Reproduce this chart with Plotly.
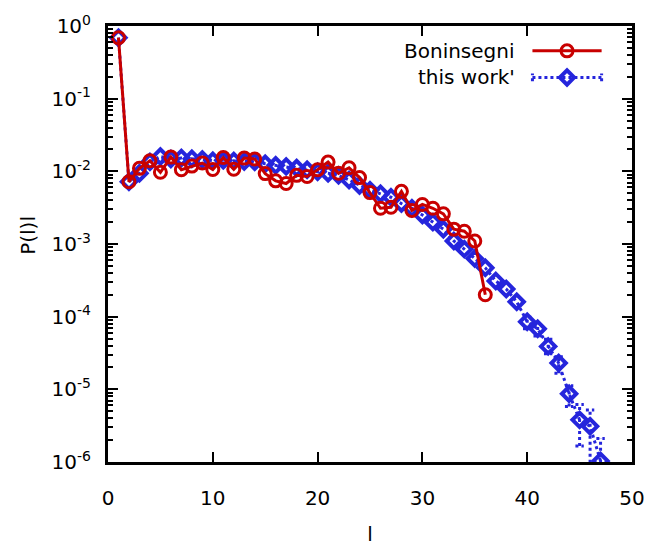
import plotly.graph_objects as go

# Cluster-length distribution P(l)l
red_x = list(range(1, 37))
red_y = [0.69, 0.0072, 0.011, 0.014, 0.0097, 0.0157, 0.0105, 0.0118, 0.013, 0.0106,
         0.0155, 0.0107, 0.0152, 0.0148, 0.0093, 0.0074, 0.0068, 0.0088, 0.0085, 0.0105,
         0.0134, 0.0094, 0.0112, 0.0082, 0.0051, 0.0031, 0.0032, 0.0053, 0.0029, 0.0035,
         0.0031, 0.0026, 0.0016, 0.0015, 0.0011, 0.0002]

blue_x = list(range(1, 48))
blue_y = [0.69, 0.0072, 0.0094, 0.0135, 0.016, 0.0148, 0.0153, 0.0149, 0.0146, 0.0140,
          0.0142, 0.0139, 0.0137, 0.0135, 0.0127, 0.0121, 0.0117, 0.0111, 0.0105, 0.0099,
          0.0094, 0.0088, 0.0076, 0.0064, 0.0055, 0.0049, 0.0044, 0.0036, 0.0031, 0.0025,
          0.0020, 0.0016, 0.0011, 0.00085, 0.00063, 0.00047, 0.00031, 0.00024, 0.00016, 8.5e-5,
          6.8e-5, 3.9e-5, 2.3e-5, 8.7e-6, 3.8e-6, 3.1e-6, 1.03e-6]

# error bounds for the tail of "this work'"
err_x = [40, 41, 42, 43, 44, 45, 46, 47]
err_lo = [6.8e-5, 5.4e-5, 3.1e-5, 1.67e-5, 5.8e-6, 1.66e-6, 1e-7, 1e-7]
err_hi = [9.8e-5, 7.8e-5, 4.9e-5, 2.8e-5, 1.12e-5, 6.2e-6, 5.2e-6, 2.1e-6]

x_ticks = [0, 10, 20, 30, 40, 50]
y_exps = [-6, -5, -4, -3, -2, -1, 0]

RED = "#c80000"
BLUE = "#2525dc"
FONT = "DejaVu Sans"

CIRCLE = dict(symbol="circle-open", size=12, color=RED, line=dict(color=RED, width=3))
DIAMOND = dict(symbol="diamond-open", size=11, color=BLUE, line=dict(color=BLUE, width=4))

fig = go.Figure()

# dotted error bars with caps
cap = 0.4
ex, ey = [], []
for x, lo, hi in zip(err_x, err_lo, err_hi):
    ex += [x, x, None, x - cap, x + cap, None, x - cap, x + cap, None]
    ey += [lo, hi, None, lo, lo, None, hi, hi, None]
fig.add_trace(go.Scatter(x=ex, y=ey, mode="lines", showlegend=False, hoverinfo="skip",
                         line=dict(color=BLUE, width=3, dash="dot")))

fig.add_trace(go.Scatter(x=blue_x, y=blue_y, mode="lines+markers", name="this work'",
                         line=dict(color=BLUE, width=3, dash="dot"), marker=DIAMOND))

fig.add_trace(go.Scatter(x=red_x, y=red_y, mode="lines+markers", name="Boninsegni",
                         line=dict(color=RED, width=3), marker=CIRCLE))

# legend keys drawn on an overlay axis (paper-like 0..1 coordinates)
key_x0, key_x1, key_xm = 0.81, 0.942, 0.876
key_y_red, key_y_blue = 0.943, 0.882
fig.add_trace(go.Scatter(x=[key_x0, key_x1], y=[key_y_red, key_y_red], mode="lines",
                         xaxis="x2", yaxis="y2", showlegend=False, hoverinfo="skip",
                         line=dict(color=RED, width=3)))
fig.add_trace(go.Scatter(x=[key_xm], y=[key_y_red], mode="markers",
                         xaxis="x2", yaxis="y2", showlegend=False, hoverinfo="skip",
                         marker=CIRCLE))
capy = 0.009
fig.add_trace(go.Scatter(x=[key_x0, key_x1, None, key_x0, key_x0, None, key_x1, key_x1],
                         y=[key_y_blue, key_y_blue, None, key_y_blue - capy, key_y_blue + capy,
                            None, key_y_blue - capy, key_y_blue + capy],
                         mode="lines", xaxis="x2", yaxis="y2", showlegend=False,
                         hoverinfo="skip", line=dict(color=BLUE, width=3, dash="dot")))
fig.add_trace(go.Scatter(x=[key_xm], y=[key_y_blue], mode="markers",
                         xaxis="x2", yaxis="y2", showlegend=False, hoverinfo="skip",
                         marker=DIAMOND))

for label, yv in (("Boninsegni", key_y_red), ("this work'", key_y_blue)):
    fig.add_annotation(x=0.78, y=yv, xref="paper", yref="paper", text=label,
                       showarrow=False, xanchor="right", yanchor="middle",
                       font=dict(family=FONT, size=20, color="black"))

# y-axis title
fig.add_annotation(x=-0.1525, y=0.519, xref="paper", yref="paper", text="P(l)l",
                   showarrow=False, textangle=-90, xanchor="center", yanchor="middle",
                   font=dict(family=FONT, size=20, color="black"))

minor_vals = [k * 10.0 ** e for e in range(-6, 0) for k in range(2, 10)]

fig.update_layout(
    width=657, height=554,
    margin=dict(l=108, r=18, t=26, b=77),
    paper_bgcolor="white", plot_bgcolor="white",
    showlegend=False,
    font=dict(family=FONT, size=20, color="black"),
    xaxis=dict(range=[0, 50], tickvals=x_ticks, ticktext=[str(v) for v in x_ticks],
               ticks="inside", ticklen=10, tickwidth=2, tickcolor="black",
               showline=True, linewidth=3, linecolor="black", mirror="ticks",
               showgrid=False, zeroline=False, ticklabelstandoff=16,
               title=dict(text="l", font=dict(family=FONT, size=20), standoff=18)),
    yaxis=dict(type="log", range=[-6, 0],
               tickvals=[10.0 ** e for e in y_exps],
               ticktext=["10<sup>%d</sup>" % e for e in y_exps],
               ticks="inside", ticklen=10, tickwidth=2, tickcolor="black",
               minor=dict(tickvals=minor_vals, ticks="inside", ticklen=5, tickwidth=2,
                          tickcolor="black", showgrid=False),
               showline=True, linewidth=3, linecolor="black", mirror="ticks",
               showgrid=False, zeroline=False, ticklabelstandoff=10),
    xaxis2=dict(overlaying="x", range=[0, 1], visible=False),
    yaxis2=dict(overlaying="y", range=[0, 1], visible=False),
)

fig.write_html("out.html")
